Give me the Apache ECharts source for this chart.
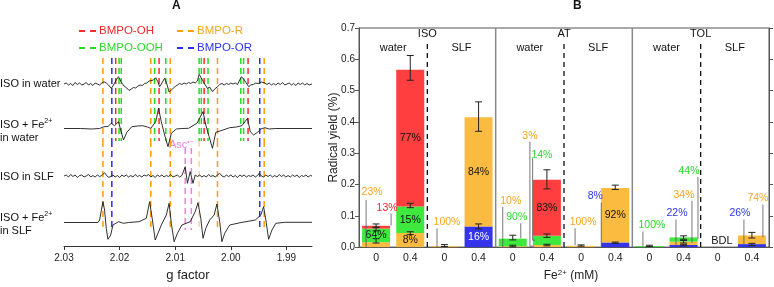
<!DOCTYPE html>
<html>
<head>
<meta charset="utf-8">
<script src="https://cdn.jsdelivr.net/npm/echarts@6/dist/echarts.min.js"></script>
<style>
  html, body { margin: 0; background: #fff; }
  #chart { width: 774px; height: 287px; }
</style>
</head>
<body>
<div id="chart"></div>
<script>
// ---------- panel A : EPR spectra, [g factor, intensity] ----------
const isoWater = [
  [2.0300,0],[2.0296,1],[2.0292,-1],[2.0288,0.5],[2.0284,-1.5],[2.0280,1.5],[2.0276,-0.5],[2.0272,1],[2.0268,-1],[2.0264,0],
  [2.0260,1.5],[2.0256,-1],[2.0252,0.5],[2.0248,-1.5],[2.0244,1],[2.0240,0],[2.0236,-1],[2.0232,1],[2.0228,2.3],[2.0224,1],
  [2.0220,-1],[2.0215,-4.3],[2.0211,-1],[2.0206,4],[2.0202,7.3],[2.0199,6],[2.0196,1],[2.0192,-2],[2.0187,-4],[2.0183,-6.5],
  [2.0179,-5],[2.0175,-3.5],[2.0171,-4],[2.0167,-2],[2.0163,-1],[2.0159,-1.5],[2.0155,0.5],[2.0151,1],[2.0147,3],[2.0144,5],
  [2.0139,4],[2.0135,6.3],[2.0131,2],[2.0128,-2.7],[2.0124,1],[2.0119,5.7],[2.0115,0],[2.0111,-8],[2.0107,-6],[2.0104,-4],
  [2.0100,-2.5],[2.0096,-1],[2.0092,0.5],[2.0088,-0.5],[2.0084,1],[2.0080,0],[2.0076,1.5],[2.0072,0.5],[2.0068,2],[2.0064,1],
  [2.0060,3],[2.0057,9.7],[2.0054,7],[2.0051,6.3],[2.0047,0],[2.0042,-4.3],[2.0038,-3],[2.0033,-7.7],[2.0029,-5],[2.0024,-2.7],
  [2.0020,-0.5],[2.0016,0.5],[2.0012,-1],[2.0008,0.5],[2.0004,-0.5],[2.0000,1],[1.9996,0],[1.9992,1],[1.9988,-0.5],[1.9984,4],
  [1.9981,7.3],[1.9977,5],[1.9974,4],[1.9971,0],[1.9968,-2.7],[1.9964,-1],[1.9959,-0.3],[1.9955,1],[1.9951,0.5],[1.9949,2.3],
  [1.9945,2],[1.9943,3],[1.9939,1],[1.9935,-0.5],[1.9931,1],[1.9927,-1],[1.9923,0.5],[1.9919,-1],[1.9915,1],[1.9911,-0.5],
  [1.9907,1.5],[1.9903,-1],[1.9899,0],[1.9895,1],[1.9891,-1],[1.9887,0.5],[1.9883,-1.5],[1.9879,1],[1.9875,-0.5],[1.9871,1],
  [1.9867,-1],[1.9863,0.5],[1.9859,-1],[1.9856,0.5],[1.9854,0]
];
const isoFeWater = [
  [2.0300,0],[2.0270,0],[2.0250,-0.5],[2.0236,0],[2.0228,1.8],[2.0221,2],[2.0215,5.2],[2.0209,2.8],[2.0202,6.8],[2.0198,-1.5],
  [2.0193,-11.5],[2.0187,-3.8],[2.0178,1.8],[2.0168,2.5],[2.0159,2.8],[2.0150,1.5],[2.0144,0.2],[2.0135,6.8],[2.0130,20.2],[2.0125,6.8],
  [2.0119,-6.5],[2.0113,-18.2],[2.0107,-4.8],[2.0098,-0.5],[2.0088,0],[2.0076,0.2],[2.0061,5.2],[2.0050,16.8],[2.0045,3.5],[2.0039,-8.2],
  [2.0033,-19.8],[2.0027,-3.8],[2.0014,-1.5],[2.0002,0.8],[1.9990,1.5],[1.9980,2.8],[1.9970,10.2],[1.9965,-3.2],[1.9959,-6.5],[1.9952,-3.8],
  [1.9946,-0.5],[1.9939,0.8],[1.9931,-0.5],[1.9920,0],[1.9854,0]
];
const isoSlf = [
  [2.0300,0],[2.0296,1],[2.0292,-1],[2.0288,1.5],[2.0284,-0.5],[2.0280,1],[2.0276,-1.5],[2.0272,0.5],[2.0268,1],[2.0264,-1],
  [2.0260,0],[2.0256,1.5],[2.0252,-1],[2.0248,0.5],[2.0244,-1],[2.0240,1],[2.0236,-0.5],[2.0232,0.5],[2.0227,3.3],[2.0224,1],
  [2.0220,-1.3],[2.0216,-0.5],[2.0212,1],[2.0208,-1],[2.0204,0.5],[2.0200,-1.5],[2.0196,1],[2.0192,-0.5],[2.0188,1],[2.0184,-1],
  [2.0180,0.5],[2.0176,-1],[2.0172,1.5],[2.0168,-0.5],[2.0164,0.5],[2.0160,-1],[2.0156,1],[2.0152,0],[2.0148,1.5],[2.0144,-1],
  [2.0140,0.5],[2.0136,-1.5],[2.0132,1],[2.0128,-0.5],[2.0124,1],[2.0120,-1],[2.0116,0.5],[2.0112,-0.5],[2.0108,1.5],[2.0104,-1],
  [2.0100,0],[2.0096,1],[2.0092,-1],[2.0088,0.5],[2.0085,1],[2.0082,9.3],[2.0078,-7.3],[2.0073,4.3],[2.0068,-7.3],[2.0064,1],
  [2.0060,-0.5],[2.0056,1],[2.0052,-1],[2.0048,0.5],[2.0044,-1],[2.0040,1.5],[2.0036,-0.5],[2.0032,0.5],[2.0028,-1],[2.0024,1],
  [2.0020,2.7],[2.0016,0],[2.0012,-1],[2.0008,1],[2.0004,-0.5],[2.0000,1],[1.9996,-1],[1.9992,0.5],[1.9988,-1.5],[1.9984,1],
  [1.9980,-0.5],[1.9976,1],[1.9972,-1],[1.9968,0.5],[1.9964,-0.5],[1.9960,1],[1.9956,-1],[1.9952,0.5],[1.9949,2.7],[1.9945,0],
  [1.9941,-1],[1.9937,1],[1.9933,-0.5],[1.9929,1],[1.9925,-1],[1.9921,0.5],[1.9917,-1],[1.9913,1.5],[1.9909,-0.5],[1.9905,1],
  [1.9901,-1],[1.9897,0.5],[1.9893,-1],[1.9889,1],[1.9885,-0.5],[1.9881,1],[1.9877,-1.5],[1.9873,0.5],[1.9869,-0.5],[1.9865,1],
  [1.9861,-1],[1.9857,0.5],[1.9854,0]
];
const isoFeSlf = [
  [2.0300,0],[2.0239,0],[2.0236,2.5],[2.0230,20.8],[2.0227,12.5],[2.0224,-5.8],[2.0221,-16.8],[2.0216,-12.5],[2.0212,-2.5],[2.0202,0.8],
  [2.0193,-0.8],[2.0184,0],[2.0165,0.8],[2.0152,4.2],[2.0146,20.8],[2.0141,2.5],[2.0136,-17.5],[2.0131,-10.8],[2.0125,-2.5],[2.0116,7.5],
  [2.0111,19.2],[2.0107,-0.8],[2.0102,-19.2],[2.0096,-10.8],[2.0088,-2.5],[2.0073,0.8],[2.0064,10.8],[2.0059,19.8],[2.0054,4.2],[2.0050,-15.8],
  [2.0045,-5.8],[2.0038,2.5],[2.0030,7.5],[2.0025,18.5],[2.0020,0.8],[2.0016,-19.2],[2.0011,-10.8],[2.0002,-2.5],[1.9983,-0.2],[1.9956,2.5],
  [1.9946,7.5],[1.9941,15.8],[1.9937,2.5],[1.9932,-16.8],[1.9926,-7.5],[1.9919,-0.8],[1.9903,0.2],[1.9854,0.2]
];
const spectra = [isoWater, isoFeWater, isoSlf, isoFeSlf];
const traceBase = [162, 117.5, 70, 23.5];   // vertical offset of each trace

// dashed markers, g values
const gOH = [2.0207, 2.0129, 2.0048, 1.9969];
const gOOH = [2.0201, 2.0197, 2.0137, 2.0117, 2.0057, 2.0053, 2.0041, 1.9982, 1.9977];
const gR = [2.0230, 2.0144, 2.0109, 2.0024, 1.9940];
const gOR = [2.0214, 1.9948];
const gRslf = [2.0230, 2.0144, 2.0109, 2.0024, 1.9940];
const gRslfFaint = [2.0057];
const gORslf = [2.0214, 1.9948];
const gAsc = [2.0082, 2.0071];
const gTicks = [2.03, 2.02, 2.01, 2.00, 1.99];

// ---------- panel B : radical yield (%) ----------
const doses = ['0', '0.4', '0', '0.4', '0', '0.4', '0', '0.4', '0', '0.4', '0', '0.4'];
const groups = ['ISO', 'AT', 'TOL'];
const media = ['water', 'SLF'];
const yieldOR  = [0, 0, 0, 0.066, 0, 0, 0, 0.015, 0, 0.0068, 0, 0.0096];
const yieldR   = [0.0156, 0.045, 0.003, 0.349, 0.0027, 0.0065, 0.004, 0.174, 0, 0.0105, 0, 0.0274];
const yieldOOH = [0.0435, 0.085, 0, 0, 0.0243, 0.030, 0, 0, 0.003, 0.0136, 0, 0];
const yieldOH  = [0.0089, 0.437, 0, 0, 0, 0.179, 0, 0, 0, 0, 0, 0];
const pctOR  = ['', '', '', '16%', '', '', '', '8%', '', '22%', '', '26%'];
const pctR   = ['23%', '8%', '100%', '84%', '10%', '3%', '100%', '92%', '', '34%', '', '74%'];
const pctOOH = ['64%', '15%', '', '', '90%', '14%', '', '', '100%', '44%', '', ''];
const pctOH  = ['13%', '77%', '', '', '', '83%', '', '', '', '', '', ''];
// [category, low, high]
const errBars = [
  [0, 0.062, 0.074], [0, 0.052, 0.064], [0, 0.013, 0.027],
  [1, 0.533, 0.612], [1, 0.126, 0.140], [1, 0.040, 0.049],
  [2, 0.002, 0.008],
  [3, 0.370, 0.464], [3, 0.058, 0.074],
  [4, 0.023, 0.038], [4, 0.001, 0.006],
  [5, 0.186, 0.247], [5, 0.031, 0.042], [5, 0.004, 0.009],
  [6, 0.003, 0.007],
  [7, 0.184, 0.198], [7, 0.012, 0.016],
  [8, 0.002, 0.006],
  [9, 0.025, 0.036], [9, 0.013, 0.021], [9, 0.004, 0.009],
  [11, 0.029, 0.047], [11, 0.005, 0.012]
];

// callout layout: [adduct, category, text dx(px), text y, line dx(px), line top, line bottom, hook dx(px)]
const callouts = [
  ['R', 0, -4, 0.177, -10, 0.151, 0.0],
  ['OH', 0, 11, 0.126, 15, 0.107, 0.069],
  ['R', 2, 2.6, 0.079, -7.4, 0.060, 0.0],
  ['R', 4, -2, 0.148, -10, 0.129, 0.0],
  ['OOH', 4, 4, 0.095, 8, 0.076, 0.028],
  ['R', 5, -17, 0.356, -17, 0.337, 0.003, -13],
  ['OOH', 5, -5, 0.293, -14.3, 0.284, 0.022, -12],
  ['R', 6, 2, 0.079, -6, 0.060, 0.006],
  ['OR', 7, -20, 0.164, -14, 0.142, 0.003],
  ['OOH', 8, 2.5, 0.069, -6.5, 0.050, 0.003],
  ['OR', 9, -6.6, 0.110, -7.6, 0.088, 0.003],
  ['R', 9, 0.4, 0.167, 8.4, 0.148, 0.013],
  ['OOH', 9, 5.4, 0.243, 14.4, 0.224, 0.025],
  ['OR', 11, -12, 0.110, -8, 0.088, 0.003],
  ['R', 11, 6, 0.155, 11, 0.136, 0.032]
];

const FONT = '"Liberation Sans", Arial, sans-serif';
const barColor = { OH: '#ff3f3f', OOH: '#3ee83e', R: '#fbbb40', OR: '#3434ea' };
const txtColor = { OH: '#f2262b', OOH: '#2cd82c', R: '#f7a51f', OR: '#2b36e6' };
const dashColor = { OH: '#ff2a2a', OOH: '#22dd22', R: '#ff9d0a', OR: '#2b2bff', asc: '#f57de0' };
const pctOf = { OH: pctOH, OOH: pctOOH, R: pctR, OR: pctOR };

const isCallout = (key, i) => callouts.some(c => c[0] === key && c[1] === i);

const chart = echarts.init(document.getElementById('chart'), null, { renderer: 'canvas' });

function dashSeries(name, color, list, yTop, yBot, opacity) {
  return {
    type: 'custom', name: name, xAxisIndex: 0, yAxisIndex: 0, z: 1,
    itemStyle: { color: color },
    data: list.map(g => [g, yTop, yBot]),
    encode: { x: 0, y: [1, 2] },
    renderItem: (p, api) => {
      const a = api.coord([api.value(0), api.value(1)]);
      const b = api.coord([api.value(0), api.value(2)]);
      return {
        type: 'line',
        shape: { x1: a[0], y1: a[1], x2: b[0], y2: b[1] },
        style: { stroke: color, lineWidth: 1.5, lineDash: [6, 4], opacity: opacity || 1 }
      };
    }
  };
}

function barSeries(key, values, labelColor) {
  return {
    type: 'bar', name: key, xAxisIndex: 1, yAxisIndex: 1, stack: 'yield',
    barCategoryGap: '18%', data: values,
    itemStyle: { color: barColor[key] },
    label: {
      show: true, position: 'inside', color: labelColor, fontSize: 10.5, fontFamily: FONT,
      formatter: p => (isCallout(key, p.dataIndex) ? '' : pctOf[key][p.dataIndex])
    }
  };
}

const dashIcon = 'path://M0,0h6v2h-6z M11,0h6v2h-6z';
const sepRows = [[4, 0, 0.7, 0], [8, 0, 0.7, 0], [2, 0, 0.656, 1], [6, 0, 0.656, 1], [10, 0, 0.656, 1]];
const headRows = [];
groups.forEach((g, i) => {
  headRows.push([4 * i + 2, 0.681, g]);
  headRows.push([4 * i + 1, 0.637, media[0]]);
  headRows.push([4 * i + 3, 0.637, media[1]]);
});
headRows.push([10.62, 0.019, 'BDL']);

const option = {
  animation: false,
  textStyle: { fontFamily: FONT },
  title: [
    { text: 'A', left: 172, top: 0, padding: 0, textStyle: { fontSize: 12, fontWeight: 'bold', color: '#111', fontFamily: FONT } },
    { text: 'B', left: 573, top: 0, padding: 0, textStyle: { fontSize: 12, fontWeight: 'bold', color: '#111', fontFamily: FONT } }
  ],
  legend: [
    {
      orient: 'vertical', left: 74, top: 19, icon: dashIcon, itemWidth: 17, itemHeight: 2, itemGap: 3,
      selectedMode: false,
      textStyle: { fontSize: 11.5, lineHeight: 14, fontFamily: FONT, padding: [0, 0, 0, -2] },
      data: [
        { name: 'BMPO-OH', itemStyle: { color: dashColor.OH }, textStyle: { color: txtColor.OH } },
        { name: 'BMPO-OOH', itemStyle: { color: dashColor.OOH }, textStyle: { color: txtColor.OOH } }
      ]
    },
    {
      orient: 'vertical', left: 172, top: 19, icon: dashIcon, itemWidth: 17, itemHeight: 2, itemGap: 3,
      selectedMode: false,
      textStyle: { fontSize: 11.5, lineHeight: 14, fontFamily: FONT, padding: [0, 0, 0, -2] },
      data: [
        { name: 'BMPO-R', itemStyle: { color: dashColor.R }, textStyle: { color: txtColor.R } },
        { name: 'BMPO-OR', itemStyle: { color: dashColor.OR }, textStyle: { color: txtColor.OR } }
      ]
    }
  ],
  graphic: [
    { type: 'text', x: 0, y: 84, style: { text: 'ISO in water', fill: '#111', font: '11px ' + FONT, verticalAlign: 'middle' } },
    { type: 'text', x: 0, y: 131, style: {
      text: '{n|ISO + Fe}{s|2+}\n{n|in water}', fill: '#111', verticalAlign: 'middle',
      rich: { n: { fontSize: 11, lineHeight: 13, fontFamily: FONT }, s: { fontSize: 7, lineHeight: 13, verticalAlign: 'top', fontFamily: FONT } }
    } },
    { type: 'text', x: 0, y: 177, style: { text: 'ISO in SLF', fill: '#111', font: '11px ' + FONT, verticalAlign: 'middle' } },
    { type: 'text', x: 0, y: 224, style: {
      text: '{n|ISO + Fe}{s|2+}\n{n|in SLF}', fill: '#111', verticalAlign: 'middle',
      rich: { n: { fontSize: 11, lineHeight: 13, fontFamily: FONT }, s: { fontSize: 7, lineHeight: 13, verticalAlign: 'top', fontFamily: FONT } }
    } },
    { type: 'text', x: 169, y: 145, style: {
      text: '{a|Asc}{s|•−}', fill: dashColor.asc, verticalAlign: 'middle',
      rich: { a: { fontSize: 11, lineHeight: 13, fontFamily: FONT, color: dashColor.asc }, s: { fontSize: 7, lineHeight: 13, verticalAlign: 'top', fontFamily: FONT, color: dashColor.asc } }
    } }
  ],
  grid: [
    { left: 64, width: 248, top: 50, height: 196 },
    { left: 359, right: 5, top: 28, bottom: 37, show: true, borderColor: '#555', borderWidth: 1 }
  ],
  xAxis: [
    {
      type: 'value', gridIndex: 0, min: 1.9854, max: 2.03, inverse: true,
      axisLine: { lineStyle: { color: '#333' } },
      axisTick: { length: 4, customValues: gTicks, lineStyle: { color: '#333' } },
      axisLabel: { customValues: gTicks, formatter: v => v.toFixed(2), fontSize: 10, color: '#222', margin: 7 },
      splitLine: { show: false },
      name: 'g factor', nameLocation: 'middle', nameGap: 23,
      nameTextStyle: { fontSize: 13, color: '#222' }
    },
    {
      type: 'category', gridIndex: 1, data: doses,
      axisLine: { lineStyle: { color: '#555' } },
      axisTick: { length: 4, lineStyle: { color: '#555' } },
      axisLabel: { fontSize: 10.5, color: '#222', margin: 6 },
      name: '{n|Fe}{s|2+}{n| (mM)}', nameLocation: 'middle', nameGap: 20,
      nameTextStyle: {
        padding: [0, 0, 0, 14],
        rich: { n: { fontSize: 12, lineHeight: 14, color: '#222' }, s: { fontSize: 8, lineHeight: 14, verticalAlign: 'top', color: '#222' } }
      }
    },
    { type: 'value', gridIndex: 1, min: 0, max: 12, show: false }
  ],
  yAxis: [
    { type: 'value', gridIndex: 0, min: 0, max: 196, show: false },
    {
      type: 'value', gridIndex: 1, min: 0, max: 0.7, interval: 0.1,
      axisLine: { show: true, lineStyle: { color: '#555' } },
      axisTick: { show: true, length: 4, lineStyle: { color: '#555' } },
      axisLabel: { formatter: v => v.toFixed(1), fontSize: 10, color: '#222', margin: 4 },
      splitLine: { show: false },
      name: 'Radical yield (%)', nameLocation: 'middle', nameGap: 19, nameMoveOverlap: false,
      nameTextStyle: { fontSize: 12, color: '#222' }
    },
    {
      type: 'value', gridIndex: 1, position: 'right', min: 0, max: 0.7, interval: 0.1,
      axisLine: { show: true, lineStyle: { color: '#555' } },
      axisTick: { show: true, length: 4, lineStyle: { color: '#555' } },
      axisLabel: { show: false }, splitLine: { show: false }
    }
  ],
  series: [
    dashSeries('BMPO-R', dashColor.R, gR, 188, 105),
    dashSeries('BMPO-OR', dashColor.OR, gOR, 188, 105),
    dashSeries('BMPO-OH', dashColor.OH, gOH, 188, 105),
    dashSeries('BMPO-OOH', dashColor.OOH, gOOH, 188, 105),
    dashSeries('BMPO-R', dashColor.R, gRslf, 105, 16),
    dashSeries('BMPO-R', dashColor.R, gRslfFaint, 105, 16, 0.45),
    dashSeries('BMPO-OR', dashColor.OR, gORslf, 105, 16),
    dashSeries('Asc', dashColor.asc, gAsc, 98, 16),
    ...spectra.map((s, i) => ({
      type: 'line', xAxisIndex: 0, yAxisIndex: 0, z: 3, showSymbol: false, symbol: 'none',
      lineStyle: { color: '#1a1a1a', width: 0.9 },
      data: s.map(p => [p[0], p[1] + traceBase[i]])
    })),

    barSeries('OR', yieldOR, '#fff'),
    barSeries('R', yieldR, '#111'),
    barSeries('OOH', yieldOOH, '#111'),
    barSeries('OH', yieldOH, '#111'),
    {
      type: 'custom', name: 'err', xAxisIndex: 1, yAxisIndex: 1, z: 5,
      data: errBars, encode: { x: 0, y: [1, 2] },
      renderItem: (p, api) => {
        const lo = api.coord([api.value(0), api.value(1)]);
        const hi = api.coord([api.value(0), api.value(2)]);
        const st = { stroke: '#222', lineWidth: 1 };
        return { type: 'group', children: [
          { type: 'line', shape: { x1: lo[0], y1: lo[1], x2: hi[0], y2: hi[1] }, style: st },
          { type: 'line', shape: { x1: lo[0] - 3.5, y1: lo[1], x2: lo[0] + 3.5, y2: lo[1] }, style: st },
          { type: 'line', shape: { x1: hi[0] - 3.5, y1: hi[1], x2: hi[0] + 3.5, y2: hi[1] }, style: st }
        ] };
      }
    },
    {
      type: 'custom', name: 'callouts', xAxisIndex: 1, yAxisIndex: 1, z: 6,
      data: callouts.map(c => [c[1], c[3]]),
      renderItem: (p, api) => {
        const [key, cat, tdx, ty, ldx, lt, lb, hook] = callouts[p.dataIndex];
        const t = api.coord([cat, ty]);
        const a = api.coord([cat, lt]);
        const b = api.coord([cat, lb]);
        const pts = [[a[0] + ldx, a[1]], [a[0] + ldx, b[1]]];
        if (hook !== undefined) pts.push([a[0] + hook, b[1]]);
        return { type: 'group', children: [
          { type: 'polyline', shape: { points: pts }, style: { stroke: '#555', lineWidth: 0.8, fill: null } },
          { type: 'text', x: t[0] + tdx, y: t[1], style: {
            text: pctOf[key][cat], fill: txtColor[key], font: '10.5px ' + FONT, align: 'center', verticalAlign: 'middle'
          } }
        ] };
      }
    },
    {
      type: 'custom', name: 'separators', xAxisIndex: 2, yAxisIndex: 1, z: 4,
      data: sepRows, encode: { x: 0, y: [1, 2] },
      renderItem: (p, api) => {
        const a = api.coord([api.value(0), api.value(1)]);
        const b = api.coord([api.value(0), api.value(2)]);
        const dashed = api.value(3) === 1;
        return {
          type: 'line', shape: { x1: a[0], y1: a[1], x2: b[0], y2: b[1] },
          style: dashed ? { stroke: '#111', lineWidth: 1.3, lineDash: [5, 4] } : { stroke: '#888', lineWidth: 1.5 }
        };
      }
    },
    {
      type: 'custom', name: 'headings', xAxisIndex: 2, yAxisIndex: 1, z: 6,
      data: headRows.map(r => [r[0], r[1]]),
      renderItem: (p, api) => {
        const c = api.coord([api.value(0), api.value(1)]);
        return { type: 'text', x: c[0], y: c[1], style: {
          text: headRows[p.dataIndex][2], fill: '#111', font: '11px ' + FONT, align: 'center', verticalAlign: 'middle'
        } };
      }
    }
  ]
};

chart.setOption(option);
</script>
</body>
</html>
